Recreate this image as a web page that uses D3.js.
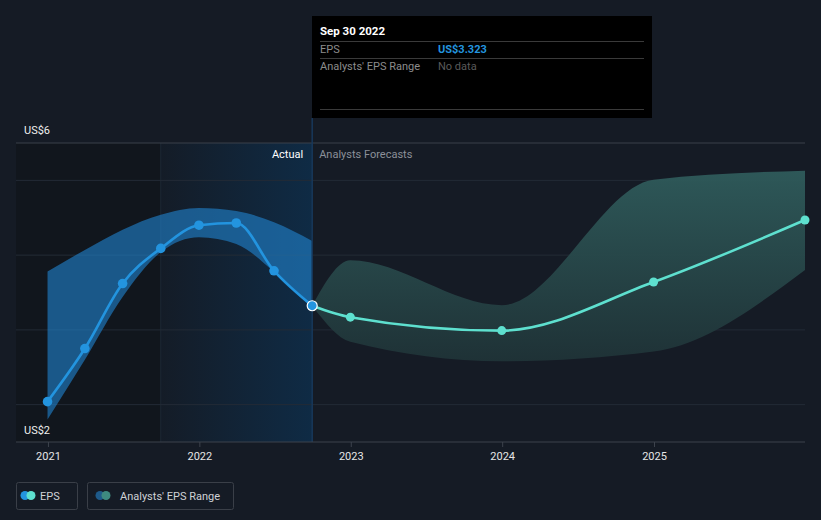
<!DOCTYPE html>
<html>
<head>
<meta charset="utf-8">
<script src="https://cdn.jsdelivr.net/npm/d3@7"></script>
<style>
  html, body { margin: 0; padding: 0; background: #151b25; }
  svg { display: block; font-family: Roboto, "Noto Sans", sans-serif; }
</style>
</head>
<body>
<svg id="chart" width="821" height="520"></svg>
<script>
// ---- data ----
const actualDates = ["2020-12-31","2021-03-31","2021-06-30","2021-09-30","2021-12-31","2022-03-31","2022-06-30","2022-09-30"];
const actualEps   = [2.04, 2.75, 3.62, 4.09, 4.40, 4.43, 3.79, 3.323];
const actualHigh  = [3.78, 4.07, 4.34, 4.54, 4.63, 4.59, 4.44, 4.19];
const actualLow   = [1.80, 2.60, 3.44, 4.04, 4.24, 4.15, 3.78, 3.323];

const forecastDates = ["2022-09-30","2022-12-31","2023-12-31","2024-12-31","2025-12-31"];
const forecastEps   = [3.323, 3.17, 2.99, 3.64, 4.47];
const forecastHigh  = [3.323, 3.93, 3.33, 5.01, 5.13];
const forecastLow   = [3.323, 2.84, 2.58, 2.71, 3.80];

const xDomain = ["2020-10-16", "2025-12-31"];
const yDomain = [1.5, 5.5];
const gridValues = [2, 3, 4, 5];
const yLabels = ["US$6", "US$2"];
const highlightStart = "2021-09-30";
const nowDate = "2022-09-30";
const tooltipTitle = "Sep 30 2022";
const tooltipRows = [["EPS", "US$3.323"], ["Analysts' EPS Range", "No data"]];
const legendItems = ["EPS", "Analysts' EPS Range"];

// ---- setup ----
const parse = d3.utcParse("%Y-%m-%d");
const svg = d3.select("#chart");
const W = 821, H = 520;
const L = 16, R = 805, T = 143, B = 442;

const x = d3.scaleUtc().domain(xDomain.map(parse)).range([L, R]);
const y = d3.scaleLinear().domain(yDomain).range([B, T]);

const actual = actualDates.map((d, i) => ({ date: parse(d), eps: actualEps[i], hi: actualHigh[i], lo: actualLow[i] }));
const forecast = forecastDates.map((d, i) => ({ date: parse(d), eps: forecastEps[i], hi: forecastHigh[i], lo: forecastLow[i] }));

svg.append("rect").attr("width", W).attr("height", H).attr("fill", "#151b25");

const defs = svg.append("defs");
const hg = defs.append("linearGradient").attr("id", "hl").attr("x1", 0).attr("x2", 1).attr("y1", 0).attr("y2", 0);
hg.append("stop").attr("offset", "0%").attr("stop-color", "#141c27");
hg.append("stop").attr("offset", "100%").attr("stop-color", "#0f2b45");
const fg = defs.append("linearGradient").attr("id", "fc").attr("x1", 0).attr("x2", 0).attr("y1", 0).attr("y2", 1);
fg.append("stop").attr("offset", "0%").attr("stop-color", "#2f5b5b");
fg.append("stop").attr("offset", "100%").attr("stop-color", "#1f3337");

// past region darker
const xNow = x(parse(nowDate)), xHl = x(parse(highlightStart));
svg.append("rect").attr("x", L).attr("y", T).attr("width", xHl - L).attr("height", B - T).attr("fill", "#11161d");
svg.append("rect").attr("x", xHl).attr("y", T).attr("width", xNow - xHl).attr("height", B - T).attr("fill", "url(#hl)");
svg.append("line").attr("x1", xHl).attr("x2", xHl).attr("y1", T).attr("y2", B).attr("stroke", "#1d2835").attr("stroke-width", 1);

// grid
svg.append("g").selectAll("line").data(gridValues).join("line")
  .attr("x1", L).attr("x2", R).attr("y1", d => y(d)).attr("y2", d => y(d))
  .attr("stroke", "#232b36").attr("stroke-width", 1);
svg.append("line").attr("x1", L).attr("x2", R).attr("y1", y(yDomain[1])).attr("y2", y(yDomain[1]))
  .attr("stroke", "#3b414b").attr("stroke-width", 1);

// bands
const curve = d3.curveMonotoneX;
const area = d3.area().x(d => x(d.date)).y0(d => y(d.lo)).y1(d => y(d.hi)).curve(curve);
svg.append("path").datum(actual).attr("d", area).attr("fill", "#2181cc").attr("fill-opacity", 0.62);
svg.append("path").datum(forecast).attr("d", area).attr("fill", "url(#fc)").attr("fill-opacity", 0.95);

// now line
svg.append("line").attr("x1", xNow).attr("x2", xNow).attr("y1", 118).attr("y2", B)
  .attr("stroke", "#17385a").attr("stroke-width", 1.5);

// lines
const line = d3.line().x(d => x(d.date)).y(d => y(d.eps)).curve(curve);
svg.append("path").datum(forecast).attr("d", line).attr("fill", "none").attr("stroke", "#5ee0cf").attr("stroke-width", 2.6);
svg.append("path").datum(actual).attr("d", line).attr("fill", "none").attr("stroke", "#2394df").attr("stroke-width", 2.6);

svg.append("g").selectAll("circle").data(forecast.slice(1)).join("circle")
  .attr("cx", d => x(d.date)).attr("cy", d => y(d.eps)).attr("r", 4.5).attr("fill", "#5ee0cf");
svg.append("g").selectAll("circle").data(actual.slice(0, -1)).join("circle")
  .attr("cx", d => x(d.date)).attr("cy", d => y(d.eps)).attr("r", 4.8).attr("fill", "#2394df");
const last = actual[actual.length - 1];
svg.append("circle").attr("cx", x(last.date)).attr("cy", y(last.eps)).attr("r", 5)
  .attr("fill", "#2394df").attr("stroke", "#ffffff").attr("stroke-width", 1.2);

// x axis
svg.append("line").attr("x1", L).attr("x2", R).attr("y1", B).attr("y2", B).attr("stroke", "#3d434d").attr("stroke-width", 1.2);
const xAxis = d3.axisBottom(x).ticks(d3.utcYear.every(1)).tickFormat(d3.utcFormat("%Y")).tickSize(5).tickPadding(5);
const gx = svg.append("g").attr("transform", `translate(0,${B})`).call(xAxis);
gx.select(".domain").remove();
gx.selectAll(".tick line").attr("stroke", "#3d434d");
gx.selectAll(".tick text").attr("fill", "#e6e6e6").attr("font-size", 11).attr("font-family", "Roboto, sans-serif");

// y labels
svg.append("text").attr("x", 24).attr("y", 134).text(yLabels[0]).attr("fill", "#eeeeee").attr("font-size", 11);
svg.append("text").attr("x", 24).attr("y", 434).text(yLabels[1]).attr("fill", "#eeeeee").attr("font-size", 11);

// section labels
svg.append("text").attr("x", xNow - 9).attr("y", 158).attr("text-anchor", "end").text("Actual")
  .attr("fill", "#ffffff").attr("font-size", 11);
svg.append("text").attr("x", xNow + 7).attr("y", 158).text("Analysts Forecasts")
  .attr("fill", "#8b9099").attr("font-size", 11);

// tooltip
const tt = svg.append("g");
tt.append("rect").attr("x", 312).attr("y", 16).attr("width", 340).attr("height", 102).attr("fill", "#000000");
tt.append("text").attr("x", 320).attr("y", 35).text(tooltipTitle).attr("fill", "#ffffff").attr("font-size", 11.5).attr("font-weight", "bold");
[41.5, 58.5, 109.5].forEach(yy => tt.append("line").attr("x1", 320).attr("x2", 644).attr("y1", yy).attr("y2", yy).attr("stroke", "#3a3a3a"));
tt.append("text").attr("x", 320).attr("y", 53).text(tooltipRows[0][0]).attr("fill", "#8c8c8c").attr("font-size", 11);
tt.append("text").attr("x", 438).attr("y", 53).text(tooltipRows[0][1]).attr("fill", "#2394df").attr("font-size", 11).attr("font-weight", "bold");
tt.append("text").attr("x", 320).attr("y", 70).text(tooltipRows[1][0]).attr("fill", "#8c8c8c").attr("font-size", 11);
tt.append("text").attr("x", 438).attr("y", 70).text(tooltipRows[1][1]).attr("fill", "#5a5a5a").attr("font-size", 11);

// legend
const lg = svg.append("g");
lg.append("rect").attr("x", 16.5).attr("y", 482.5).attr("width", 61).attr("height", 27).attr("rx", 2)
  .attr("fill", "none").attr("stroke", "#3a3f48");
lg.append("circle").attr("cx", 25).attr("cy", 495.5).attr("r", 4.5).attr("fill", "#2394df");
lg.append("circle").attr("cx", 31).attr("cy", 495.5).attr("r", 4.5).attr("fill", "#5ee0cf");
lg.append("text").attr("x", 40).attr("y", 499.5).text(legendItems[0]).attr("fill", "#cfd2d6").attr("font-size", 11);
lg.append("rect").attr("x", 87.5).attr("y", 482.5).attr("width", 146).attr("height", 27).attr("rx", 2)
  .attr("fill", "none").attr("stroke", "#3a3f48");
lg.append("circle").attr("cx", 100).attr("cy", 495.5).attr("r", 4.5).attr("fill", "#1e5a8a");
lg.append("circle").attr("cx", 106).attr("cy", 495.5).attr("r", 4.5).attr("fill", "#3e8a80");
lg.append("text").attr("x", 120).attr("y", 499.5).text(legendItems[1]).attr("fill", "#cfd2d6").attr("font-size", 11);
</script>
</body>
</html>
